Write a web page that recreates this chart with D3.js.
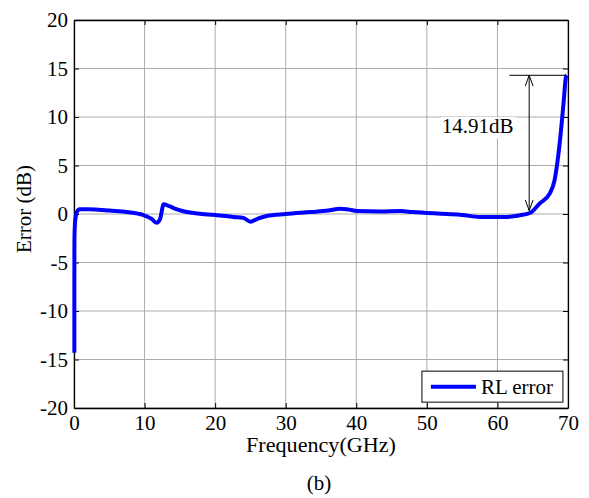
<!DOCTYPE html>
<html>
<head>
<meta charset="utf-8">
<script src="https://d3js.org/d3.v7.min.js"></script>
<style>
  body { margin: 0; background: #fff; }
  text { font-family: "Liberation Serif", "Times New Roman", serif; }
</style>
</head>
<body>
<div id="chart"></div>
<script>
// data
const freq = [0.05, 0.05, 0.06, 0.1, 0.2, 0.4, 0.8, 2, 3.5, 5, 7.5, 9.8, 11, 11.7, 12.2, 12.7, 13.5, 14.5, 16, 17.5,
              20, 22.6, 24, 25, 26, 27.3, 30, 33.5, 36, 37.7, 39, 40.1, 43.4, 46.3, 48, 52.8, 55, 57.5, 61.3, 63,
              64.6, 66, 67.4, 68.1, 68.6, 69.1, 69.4, 69.7, 69.85];
const errDb = [-14.3, -8, -3, -1.5, -0.5, 0.2, 0.5, 0.5, 0.45, 0.35, 0.2, -0.1, -0.5, -0.9, -0.5, 1.0, 0.8, 0.5, 0.2, 0.05,
               -0.1, -0.3, -0.4, -0.8, -0.5, -0.2, 0, 0.2, 0.35, 0.55, 0.45, 0.3, 0.25, 0.3, 0.2, 0, -0.1, -0.3, -0.3, -0.15,
               0.1, 1.1, 2.1, 3.5, 5.9, 9.3, 11.7, 14.1, 14.3];
const xTicks = [0, 10, 20, 30, 40, 50, 60, 70];
const yTicks = [-20, -15, -10, -5, 0, 5, 10, 15, 20];
const seriesName = "RL error";
const annoText = "14.91dB";
const annoTop = 14.3, annoBottom = 0.35, annoX = 64.5, annoLeft = 61.7;

const W = 589, H = 498;
const margin = {top: 20, right: 21, bottom: 90, left: 74};
const width = W - margin.left - margin.right,
      height = H - margin.top - margin.bottom;

const svg = d3.select("#chart")
  .append("svg")
    .attr("width", W)
    .attr("height", H)
  .append("g")
    .attr("transform", `translate(${margin.left},${margin.top})`);

const x = d3.scaleLinear().domain([0, 70]).range([0, width]);
const y = d3.scaleLinear().domain([-20, 20]).range([height, 0]);

// grid
svg.append("g")
  .selectAll("line")
  .data(xTicks)
  .join("line")
    .attr("x1", d => x(d)).attr("x2", d => x(d))
    .attr("y1", 0).attr("y2", height)
    .attr("stroke", "#ababab").attr("stroke-width", 1);
svg.append("g")
  .selectAll("line")
  .data(yTicks)
  .join("line")
    .attr("y1", d => y(d)).attr("y2", d => y(d))
    .attr("x1", 0).attr("x2", width)
    .attr("stroke", "#ababab").attr("stroke-width", 1);

// axes, ticks inward
const tk = 5;
const fontSize = "21px";
const plain = d => String(d);   // keep ascii hyphen for negatives
const bottomAxis = svg.append("g")
  .attr("transform", `translate(0,${height})`)
  .call(d3.axisBottom(x).tickValues(xTicks).tickSizeInner(-tk).tickSizeOuter(0).tickPadding(8).tickFormat(plain));
const leftAxis = svg.append("g")
  .call(d3.axisLeft(y).tickValues(yTicks).tickSizeInner(-tk).tickSizeOuter(0).tickPadding(6).tickFormat(plain));
svg.append("g")
  .call(d3.axisTop(x).tickValues(xTicks).tickSizeInner(-tk).tickSizeOuter(0).tickFormat(""));
svg.append("g")
  .attr("transform", `translate(${width},0)`)
  .call(d3.axisRight(y).tickValues(yTicks).tickSizeInner(-tk).tickSizeOuter(0).tickFormat(""));

svg.selectAll(".domain").attr("stroke", "#000").attr("stroke-width", 1.3);
svg.selectAll(".tick line").attr("stroke", "#000");
svg.selectAll(".tick text")
  .style("font-family", "'Liberation Serif', serif")
  .style("font-size", fontSize)
  .attr("fill", "#000");
bottomAxis.selectAll(".tick text").attr("dy", "0.66em");
leftAxis.selectAll(".tick text").attr("dy", "0.33em");

// line
svg.append("path")
  .datum(freq.map((f, i) => ({f: f, e: errDb[i]})))
  .attr("d", d3.line().curve(d3.curveMonotoneX).x(d => x(d.f)).y(d => y(d.e)))
  .attr("fill", "none")
  .attr("stroke", "#0000ff")
  .attr("stroke-width", 4)
  .attr("stroke-linejoin", "round");

// annotation
const defs = svg.append("defs");
defs.append("marker")
  .attr("id", "arr")
  .attr("viewBox", "0 0 12 12")
  .attr("refX", 11).attr("refY", 6)
  .attr("markerWidth", 12).attr("markerHeight", 12)
  .attr("markerUnits", "userSpaceOnUse")
  .attr("orient", "auto-start-reverse")
  .append("path")
    .attr("d", "M0,2 L11,6 L0,10")
    .attr("fill", "none").attr("stroke", "#000").attr("stroke-width", 1);

svg.append("line")
  .attr("x1", x(annoLeft)).attr("x2", x(70) - 2)
  .attr("y1", y(annoTop)).attr("y2", y(annoTop))
  .attr("stroke", "#000").attr("stroke-width", 1);
svg.append("line")
  .attr("x1", x(annoX)).attr("x2", x(annoX))
  .attr("y1", y(annoTop)).attr("y2", y(annoBottom))
  .attr("stroke", "#000").attr("stroke-width", 1)
  .attr("marker-start", "url(#arr)")
  .attr("marker-end", "url(#arr)");
svg.append("rect")
  .attr("x", x(52.0)).attr("y", y(10.0))
  .attr("width", x(62.6) - x(52.0)).attr("height", y(7.8) - y(10.0))
  .attr("fill", "#fff");
svg.append("text")
  .attr("x", x(52.1)).attr("y", y(8.3))
  .style("font-size", fontSize)
  .text(annoText);

// legend
const lg = svg.append("g").attr("transform", `translate(${x(49.3)},${y(-16.2)})`);
lg.append("rect")
  .attr("width", 141).attr("height", 31)
  .attr("fill", "#fff").attr("stroke", "#000").attr("stroke-width", 1);
lg.append("line")
  .attr("x1", 9).attr("x2", 54).attr("y1", 15.5).attr("y2", 15.5)
  .attr("stroke", "#0000ff").attr("stroke-width", 4);
lg.append("text")
  .attr("x", 59).attr("y", 23)
  .style("font-size", fontSize)
  .text(seriesName);

// axis titles
svg.append("text")
  .attr("x", width / 2).attr("y", height + 44)
  .attr("text-anchor", "middle")
  .attr("textLength", 150)
  .attr("lengthAdjust", "spacingAndGlyphs")
  .style("font-size", fontSize)
  .text("Frequency(GHz)");
svg.append("text")
  .attr("transform", `translate(${-43},${height / 2 - 5}) rotate(-90)`)
  .attr("text-anchor", "middle")
  .style("font-size", fontSize)
  .text("Error (dB)");
svg.append("text")
  .attr("x", width / 2 - 2).attr("y", height + 82)
  .attr("text-anchor", "middle")
  .style("font-size", fontSize)
  .text("(b)");
</script>
</body>
</html>
